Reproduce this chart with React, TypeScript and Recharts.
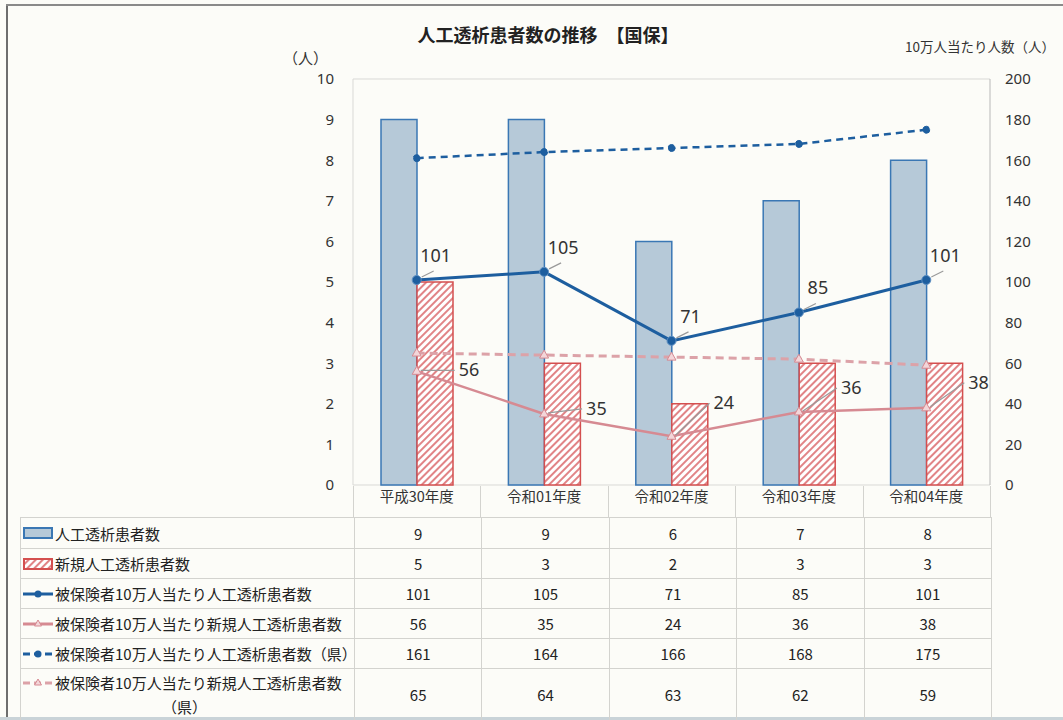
import React from 'react';
import {
  ComposedChart,
  Bar,
  Line,
  XAxis,
  YAxis,
  CartesianGrid,
  LabelList,
} from 'recharts';

const categories = ['平成30年度', '令和01年度', '令和02年度', '令和03年度', '令和04年度'];
const patients = [9, 9, 6, 7, 8];
const newPatients = [5, 3, 2, 3, 3];
const per100k = [101, 105, 71, 85, 101];
const newPer100k = [56, 35, 24, 36, 38];
const per100kPref = [161, 164, 166, 168, 175];
const newPer100kPref = [65, 64, 63, 62, 59];
const leftTicks = [0, 1, 2, 3, 4, 5, 6, 7, 8, 9, 10];
const rightTicks = [0, 20, 40, 60, 80, 100, 120, 140, 160, 180, 200];

const seriesNames = [
  '人工透析患者数',
  '新規人工透析患者数',
  '被保険者10万人当たり人工透析患者数',
  '被保険者10万人当たり新規人工透析患者数',
  '被保険者10万人当たり人工透析患者数（県）',
  '被保険者10万人当たり新規人工透析患者数',
];

const data = categories.map((c, i) => ({
  name: c,
  patients: patients[i],
  newPatients: newPatients[i],
  per100k: per100k[i],
  newPer100k: newPer100k[i],
  per100kPref: per100kPref[i],
  newPer100kPref: newPer100kPref[i],
}));

const tableRows = [patients, newPatients, per100k, newPer100k, per100kPref, newPer100kPref];

const FONT = '"Noto Sans CJK JP", "Noto Sans", sans-serif';
const NUMFONT = '"Noto Sans", sans-serif';
const BG = '#fcfcf8';
const BLUE_FILL = '#b6c9d8';
const BLUE_STROKE = '#3a77b4';
const RED = '#d44f4f';
const BLUE_LINE = '#1d5e9f';
const PINK = '#d68a92';
const PINK_DASH = '#dca2a8';
const GRID = '#d9d9d6';

const PLOT_LEFT = 353;
const PLOT_RIGHT = 990;
const COL_W = (PLOT_RIGHT - PLOT_LEFT) / 5;

const pinkDy = [-1, -5, -33, -24, -25];

const BlueLabel = (props: any) => {
  const { x, y, value } = props;
  if (x == null || y == null) return null;
  return (
    <g>
      <line x1={x + 5} y1={y - 3} x2={x + 17} y2={y - 9} stroke="#9a9a9a" strokeWidth={1.2} />
      <text x={x + 19} y={y - 18} textAnchor="middle" fontSize={18} fill="#333" fontFamily={NUMFONT}>
        {value}
      </text>
    </g>
  );
};

const PinkLabel = (props: any) => {
  const { x, y, value, index } = props;
  if (x == null || y == null) return null;
  const dy = pinkDy[index ?? 0] ?? -10;
  const tx = x + 42;
  const ty = y + dy;
  return (
    <g>
      <line x1={x + 4} y1={y - 1} x2={tx - 4} y2={ty} stroke="#9a9a9a" strokeWidth={1.2} />
      <text x={tx} y={ty + 6} textAnchor="start" fontSize={18} fill="#333" fontFamily={NUMFONT}>
        {value}
      </text>
    </g>
  );
};

const Triangle = (props: any) => {
  const { cx, cy, stroke } = props;
  if (cx == null || cy == null) return null;
  return (
    <polygon
      points={`${cx},${cy - 5} ${cx - 4.5},${cy + 3} ${cx + 4.5},${cy + 3}`}
      fill="#f3d6d9"
      stroke={stroke}
      strokeWidth={1}
    />
  );
};

const LegendIcon = ({ kind }: { kind: number }) => {
  return (
    <svg width={30} height={14} style={{ flex: '0 0 auto', marginRight: 2 }}>
      {kind === 0 && <rect x={1} y={2} width={28} height={10} fill={BLUE_FILL} stroke={BLUE_STROKE} strokeWidth={2} />}
      {kind === 1 && <rect x={1} y={2} width={28} height={10} fill="url(#hatchRed)" stroke={RED} strokeWidth={2} />}
      {kind === 2 && (
        <g>
          <line x1={0} y1={7} x2={30} y2={7} stroke={BLUE_LINE} strokeWidth={3} />
          <circle cx={15} cy={7} r={3.5} fill={BLUE_LINE} />
        </g>
      )}
      {kind === 3 && (
        <g>
          <line x1={0} y1={7} x2={30} y2={7} stroke={PINK} strokeWidth={3} />
          <polygon points="15,3 11.5,9 18.5,9" fill="#f3d6d9" stroke={PINK} strokeWidth={1} />
        </g>
      )}
      {kind === 4 && (
        <g>
          <line x1={0} y1={7} x2={30} y2={7} stroke={BLUE_LINE} strokeWidth={3} strokeDasharray="7 4" />
          <circle cx={15} cy={7} r={3.5} fill={BLUE_LINE} />
        </g>
      )}
      {kind === 5 && (
        <g>
          <line x1={0} y1={7} x2={30} y2={7} stroke={PINK_DASH} strokeWidth={3} strokeDasharray="7 4" />
          <polygon points="15,3 11.5,9 18.5,9" fill="#f3d6d9" stroke={PINK} strokeWidth={1} />
        </g>
      )}
    </svg>
  );
};

const rowHeights = [31, 30, 30, 30, 30, 52];

export default function App() {
  const lineColor = '#d3d3cf';
  return (
    <div
      style={{
        position: 'absolute',
        left: 0,
        top: 0,
        width: 1063,
        height: 720,
        background: BG,
        fontFamily: FONT,
        overflow: 'hidden',
      }}
    >
      <svg width={0} height={0} style={{ position: 'absolute' }}>
        <defs>
          <pattern id="hatchRed" patternUnits="userSpaceOnUse" width={5} height={5} patternTransform="rotate(45)">
            <rect x={0} y={0} width={5} height={5} fill="#ffffff" />
            <line x1={1} y1={0} x2={1} y2={5} stroke="#dc6e71" strokeWidth={1.7} />
          </pattern>
        </defs>
      </svg>

      <div style={{ position: 'absolute', left: 6, top: 4, width: 2, height: 716, background: '#6e6e6e' }} />
      <div style={{ position: 'absolute', left: 6, top: 4, width: 1057, height: 2, background: '#8a8a8a' }} />
      <div style={{ position: 'absolute', left: 0, top: 717, width: 1063, height: 3, background: '#c9d3d8' }} />

      <div
        style={{
          position: 'absolute',
          left: 0,
          width: 1096,
          top: 21,
          textAlign: 'center',
          fontSize: 18,
          fontWeight: 700,
          color: '#222',
          whiteSpace: 'pre',
        }}
      >
        人工透析患者数の推移　【国保】
      </div>
      <div style={{ position: 'absolute', left: 283, top: 47, fontSize: 15, color: '#333' }}>（人）</div>
      <div
        style={{
          position: 'absolute',
          left: 905,
          top: 36,
          fontSize: 13.5,
          color: '#333',
          whiteSpace: 'nowrap',
        }}
      >
        10万人当たり人数（人）
      </div>

      <div style={{ position: 'absolute', left: 0, top: 0 }}>
        <ComposedChart
          width={1063}
          height={720}
          data={data}
          margin={{ top: 79, right: 0, bottom: 205, left: 0 }}
          barGap={0}
          barSize={36}
        >
          <CartesianGrid horizontal vertical={false} stroke={GRID} />
          <XAxis
            dataKey="name"
            axisLine={false}
            tickLine={false}
            tickSize={0}
            tickMargin={7}
            height={30}
            tick={{ fontSize: 14.5, fill: '#333', fontFamily: FONT }}
          />
          <YAxis
            yAxisId="left"
            orientation="left"
            width={353}
            domain={[0, 10]}
            ticks={leftTicks}
            interval={0}
            axisLine={{ stroke: GRID }}
            tickLine={false}
            tickSize={8}
            tickMargin={11}
            tick={{ fontSize: 15, fill: '#333', fontFamily: NUMFONT }}
          />
          <YAxis
            yAxisId="right"
            orientation="right"
            width={73}
            domain={[0, 200]}
            ticks={rightTicks}
            interval={0}
            axisLine={{ stroke: '#b8b8b8' }}
            tickLine={false}
            tickSize={6}
            tickMargin={9}
            tick={{ fontSize: 15, fill: '#333', fontFamily: NUMFONT }}
          />
          <Bar
            yAxisId="left"
            dataKey="patients"
            fill={BLUE_FILL}
            stroke={BLUE_STROKE}
            strokeWidth={1.5}
            isAnimationActive={false}
          />
          <Bar
            yAxisId="left"
            dataKey="newPatients"
            fill="url(#hatchRed)"
            stroke={RED}
            strokeWidth={1.5}
            isAnimationActive={false}
          />
          <Line
            yAxisId="right"
            dataKey="newPer100kPref"
            stroke={PINK_DASH}
            strokeWidth={3}
            strokeDasharray="8 5"
            dot={<Triangle stroke={PINK} />}
            isAnimationActive={false}
          />
          <Line
            yAxisId="right"
            dataKey="per100kPref"
            stroke={BLUE_LINE}
            strokeWidth={2.5}
            strokeDasharray="7 5"
            dot={{ r: 3.5, fill: BLUE_LINE, stroke: BLUE_LINE, strokeWidth: 1 }}
            isAnimationActive={false}
          />
          <Line
            yAxisId="right"
            dataKey="newPer100k"
            stroke={PINK}
            strokeWidth={2.5}
            dot={<Triangle stroke={PINK} />}
            isAnimationActive={false}
          >
            <LabelList dataKey="newPer100k" content={<PinkLabel />} />
          </Line>
          <Line
            yAxisId="right"
            dataKey="per100k"
            stroke={BLUE_LINE}
            strokeWidth={3}
            dot={{ r: 4.5, fill: BLUE_LINE, stroke: '#5d8fc2', strokeWidth: 1 }}
            isAnimationActive={false}
          >
            <LabelList dataKey="per100k" content={<BlueLabel />} />
          </Line>
        </ComposedChart>
      </div>

      {[0, 1, 2, 3, 4, 5].map((k) => (
        <div
          key={'v' + k}
          style={{
            position: 'absolute',
            left: Math.round(PLOT_LEFT + k * COL_W),
            top: 486,
            width: 1,
            height: 31,
            background: lineColor,
          }}
        />
      ))}

      <div
        style={{
          position: 'absolute',
          left: 20,
          top: 517,
          width: PLOT_RIGHT - 20,
          borderTop: `1px solid ${lineColor}`,
          borderLeft: `1px solid ${lineColor}`,
          borderRight: `1px solid ${lineColor}`,
          color: '#222',
          fontSize: 15,
        }}
      >
        {tableRows.map((row, r) => (
          <div
            key={r}
            style={{
              display: 'flex',
              height: rowHeights[r] - 1,
              borderBottom: `1px solid ${lineColor}`,
            }}
          >
            <div
              style={{
                width: PLOT_LEFT - 20,
                flex: '0 0 auto',
                display: 'flex',
                flexDirection: 'column',
                justifyContent: 'center',
                paddingLeft: 2,
                boxSizing: 'border-box',
              }}
            >
              <div style={{ display: 'flex', alignItems: 'center', whiteSpace: 'nowrap' }}>
                <LegendIcon kind={r} />
                <span>{seriesNames[r]}</span>
              </div>
              {r === 5 && <div style={{ textAlign: 'center', marginTop: 3, paddingRight: 8 }}>（県）</div>}
            </div>
            {row.map((v, c) => (
              <div
                key={c}
                style={{
                  width: COL_W,
                  flex: '0 0 auto',
                  borderLeft: `1px solid ${lineColor}`,
                  boxSizing: 'border-box',
                  display: 'flex',
                  alignItems: 'center',
                  justifyContent: 'center',
                }}
              >
                {v}
              </div>
            ))}
          </div>
        ))}
      </div>
    </div>
  );
}
